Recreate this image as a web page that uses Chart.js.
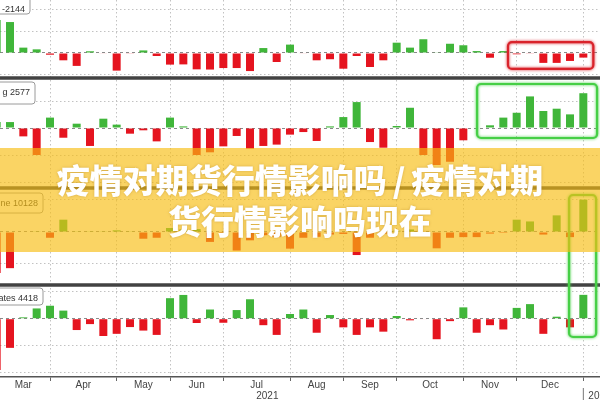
<!DOCTYPE html>
<html>
<head>
<meta charset="utf-8">
<script src="https://cdn.jsdelivr.net/npm/chart.js@4.4.1/dist/chart.umd.min.js"></script>
<style>
  body { margin: 0; background: #fff; }
  #wrap { position: relative; width: 600px; height: 400px; overflow: hidden; }
  #band { position: absolute; left: 0; top: 148px; width: 600px; height: 104px; background: rgba(247, 189, 17, 0.65); }
  #title { position: absolute; left: 0; top: 159px; width: 600px; text-align: center; color: #fff; white-space: nowrap;
    font: 900 33px/41px "Noto Sans CJK SC", sans-serif; text-shadow: 0 0 3px rgba(140, 90, 0, 0.35); }
  #title .sl { margin: 0 6px; }
</style>
</head>
<body>
<div id="wrap">
  <canvas id="chart" width="600" height="400"></canvas>
  <div id="band"></div>
  <div id="title">疫情对期货行情影响吗<span class="sl">/</span>疫情对期<br>货行情影响吗现在</div>
</div>
<script>
// weekly readings, Fridays
const weeks = [
  '2021-03-05', '2021-03-12', '2021-03-19', '2021-03-26', '2021-04-02', '2021-04-09', '2021-04-16', '2021-04-23',
  '2021-04-30', '2021-05-07', '2021-05-14', '2021-05-21', '2021-05-28', '2021-06-04', '2021-06-11', '2021-06-18',
  '2021-06-25', '2021-07-02', '2021-07-09', '2021-07-16', '2021-07-23', '2021-07-30', '2021-08-06', '2021-08-13',
  '2021-08-20', '2021-08-27', '2021-09-03', '2021-09-10', '2021-09-17', '2021-09-24', '2021-10-01', '2021-10-08',
  '2021-10-15', '2021-10-22', '2021-10-29', '2021-11-05', '2021-11-12', '2021-11-19', '2021-11-26', '2021-12-03',
  '2021-12-10', '2021-12-17', '2021-12-24', '2021-12-31', '2022-01-07'
];

const panel1 = [
  15300, 14400, 2500, 1700, -800, -3400, -6000, 800, -200, -8200, -300, 1200, -1400, -5400, -5300,
  -7600, -7700, -7000, -7000, -8400, 2300, -4200, 3900, -200, -3400, -2900, -7300, -1400, -6500, -3400,
  4800, 2500, 6400, 300, 4300, 3600, 900, -2200, 900, -600, -300, -4600, -4600, -3700, -2144
];
const panel2 = [
  440, 440, -620, -2000, 770, -720, 320, -1330, 690, 250, -420, -170, -990, 770, 120,
  -2000, -1800, -1360, -590, -1530, -1330, -1230, -490, -300, -960, 120, 810, 1920, -1040, -1460,
  150, 1500, -2000, -2740, -2500, -910, 0, 200, 770, 1130, 2340, 1260, 1430, 1010, 2577
];
const panel3 = [
  -12800, -11300, 150, 100, -1800, 3850, 100, 100, 100, 520, 100, -2100, -1800, 1250, 800,
  900, -3100, -300, -5800, -2600, -1000, -1600, -5200, -1800, -1500, -800, -600, -7200, -1800, -500,
  400, 800, -300, -5100, -1800, -1600, -1600, -500, -300, 3850, 3300, -800, 5200, -1600, 10128
];
const panel4 = [
  -9500, -5400, 250, 1900, 2400, 1500, -2100, -1000, -3200, -2800, -1550, -2200, -3000, 3800, 4400,
  -800, 1700, -750, 1600, 3600, -1200, -3000, 870, 1700, -2600, 680, -1600, -3000, -1600, -2400,
  500, -300, -100, -3800, -450, 2100, -2600, -1200, -2000, 2000, 2700, -2800, 370, -1600, 4418
];
const panelTags = ['-2144', 'g 2577', 'ne 10128', 'ates 4418'];
const monthNames = ['Jan', 'Feb', 'Mar', 'Apr', 'May', 'Jun', 'Jul', 'Aug', 'Sep', 'Oct', 'Nov', 'Dec'];

const GREEN = '#40b63a';
const RED = '#e5141f';

// month boundaries and label positions from the week list
const dates = weeks.map(d => new Date(d + 'T00:00:00'));
const starts = [0];
dates.forEach((d, i) => { if (i > 0 && d.getMonth() !== dates[i - 1].getMonth()) starts.push(i); });
const xTicks = [];
starts.slice(1).forEach(v => xTicks.push({ value: v, grid: true, label: '' }));
for (let m = 0; m < starts.length - 1; m++) {
  xTicks.push({ value: (starts[m] + starts[m + 1]) / 2, grid: false, label: monthNames[dates[starts[m]].getMonth()] });
}
xTicks.push({ value: 20.3, grid: false, label: ['', '2021'] });
xTicks.sort((a, b) => a.value - b.value);
const yearStart = dates.findIndex((d, i) => i > 0 && d.getFullYear() !== dates[i - 1].getFullYear());

function panelScale(min, max, step, weight) {
  return {
    type: 'linear', position: 'right', stack: 'panels', stackWeight: weight,
    min: min, max: max,
    afterBuildTicks: s => {
      const t = [];
      for (let v = Math.ceil(min / step) * step; v <= max; v += step) t.push({ value: v });
      s.ticks = t;
    },
    ticks: { display: false },
    grid: {
      drawTicks: false,
      color: c => (c.tick && c.tick.value === 0) ? '#8a8a8a' : '#c2c2c2'
    },
    border: { display: false, dash: c => (c.tick && c.tick.value === 0) ? [3, 3] : [1.5, 2.5] },
    afterFit: s => { s.width = 0; }
  };
}

const overlays = {
  id: 'overlays',
  afterDatasetsDraw(chart) {
    const ctx = chart.ctx;
    const xs = chart.scales.x;
    const area = chart.chartArea;
    ctx.save();

    // panel separators
    ctx.strokeStyle = '#424242';
    ctx.lineWidth = 3.5;
    ['p1', 'p2', 'p3'].forEach(id => {
      const y = chart.scales[id].bottom;
      ctx.beginPath(); ctx.moveTo(area.left, y); ctx.lineTo(area.right, y); ctx.stroke();
    });

    // value tags at top-left of each panel
    const tagBox = [[-6, 14, 30, 9.5], [4, 26, 35, 15], [5, 25, 43, 16], [3, 20, 43, 13.5]];
    ['p1', 'p2', 'p3', 'p4'].forEach((id, p) => {
      const top = chart.scales[id].top;
      const [t, b, r, ty] = tagBox[p];
      ctx.beginPath();
      ctx.roundRect(-6, top + t, r + 6, b - t, 3);
      ctx.fillStyle = '#fff';
      ctx.fill();
      ctx.lineWidth = 1;
      ctx.strokeStyle = '#9a9a9a';
      ctx.stroke();
      ctx.fillStyle = '#333';
      ctx.font = '9px "Liberation Sans"';
      ctx.textAlign = 'right';
      ctx.textBaseline = 'middle';
      ctx.fillText(panelTags[p], r - 5, top + ty);
    });

    // highlight frames
    const frames = [
      { from: 38.35, to: 44.75, top: ['p1', 5100], bottom: ['p1', -7400], color: '#d9232b' },
      { from: 36.03, to: 45.03, top: ['p2', 3260], bottom: ['p2', -740], color: '#46cf46' },
      { from: 42.93, to: 44.96, top: ['p3', 11560], bottom: ['p4', -3390], color: '#46cf46' }
    ];
    frames.forEach(f => {
      const x0 = xs.getPixelForValue(f.from), x1 = xs.getPixelForValue(f.to);
      const y0 = chart.scales[f.top[0]].getPixelForValue(f.top[1]);
      const y1 = chart.scales[f.bottom[0]].getPixelForValue(f.bottom[1]);
      ctx.beginPath();
      ctx.roundRect(x0, y0, x1 - x0, y1 - y0, 4);
      ctx.shadowColor = f.color;
      ctx.shadowBlur = 3;
      ctx.lineWidth = 2.2;
      ctx.strokeStyle = f.color;
      ctx.stroke();
      ctx.shadowBlur = 0;
    });

    // next-year marker on the axis
    const yx = xs.getPixelForValue(yearStart);
    ctx.strokeStyle = '#777';
    ctx.lineWidth = 1;
    ctx.beginPath(); ctx.moveTo(yx, xs.top + 11); ctx.lineTo(yx, xs.top + 23); ctx.stroke();
    ctx.fillStyle = '#444';
    ctx.font = '10px "Liberation Sans"';
    ctx.textAlign = 'left';
    ctx.textBaseline = 'middle';
    ctx.fillText(String(dates[yearStart].getFullYear()), yx + 5, xs.top + 19.5);
    ctx.restore();
  }
};

const ctx = document.getElementById('chart').getContext('2d');
const chart = new Chart(ctx, {
  type: 'bar',
  data: {
    datasets: [panel1, panel2, panel3, panel4].map((vals, p) => ({
      yAxisID: 'p' + (p + 1),
      data: vals.map((v, i) => ({ x: i, y: v })),
      backgroundColor: c => (c.raw && c.raw.y < 0) ? RED : GREEN,
      grouped: false,
      barPercentage: 0.75,
      categoryPercentage: 1
    }))
  },
  options: {
    responsive: false,
    animation: false,
    layout: { padding: 0 },
    plugins: { legend: { display: false }, tooltip: { enabled: false } },
    scales: {
      x: {
        type: 'linear', min: 0.25, max: 45.25, offset: false,
        afterBuildTicks: s => { s.ticks = xTicks.map(t => ({ value: t.value })); },
        ticks: {
          autoSkip: false, maxRotation: 0, minRotation: 0, padding: -1, color: '#444',
          font: { family: 'Liberation Sans', size: 10, lineHeight: 1.1 },
          callback: (v, i) => xTicks[i].label
        },
        grid: {
          offset: false,
          color: c => (xTicks[c.index] && xTicks[c.index].grid) ? '#c2c2c2' : 'rgba(0,0,0,0)',
          tickColor: c => (xTicks[c.index] && xTicks[c.index].grid) ? '#666' : 'rgba(0,0,0,0)',
          tickLength: 4
        },
        border: { display: true, color: '#555', width: 1.5, dash: [1.5, 2.5] },
        afterFit: s => { s.height = 23; }
      },
      p1: panelScale(-11628, 24651, 10000, 78),
      p2: panelScale(-4444, 3704, 2000, 110),
      p3: panelScale(-16563, 13750, 10000, 97),
      p4: panelScale(-10796, 6241, 5000, 92)
    }
  },
  plugins: [overlays]
});
</script>
</body>
</html>
